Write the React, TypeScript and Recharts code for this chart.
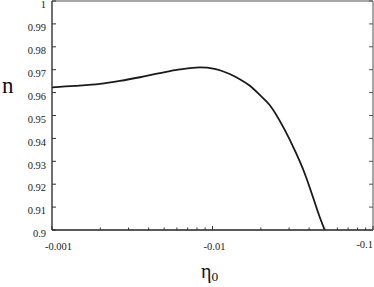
import React from 'react';
import { Line, LineChart, XAxis, YAxis } from 'recharts';

// eta0 values (negative, log-spaced) and n
const etaValues = [
  -0.001, -0.00139, -0.00199, -0.00265, -0.00353, -0.0047, -0.00626, -0.00834, -0.0103,
  -0.0128, -0.0148, -0.0171, -0.0197, -0.0227, -0.0282, -0.0325, -0.0375, -0.0423,
  -0.0465, -0.05,
];
const nValues = [
  0.9623, 0.9629, 0.9638, 0.9651, 0.9667, 0.9685, 0.9701, 0.971, 0.9704,
  0.9681, 0.9658, 0.963, 0.959, 0.9546, 0.9437, 0.9349, 0.9248, 0.9143,
  0.9058, 0.9,
];

const xMajor = [0.001, 0.01, 0.1];
const xTicks = [
  0.001, 0.002, 0.003, 0.004, 0.005, 0.006, 0.007, 0.008, 0.009,
  0.01, 0.02, 0.03, 0.04, 0.05, 0.06, 0.07, 0.08, 0.09, 0.1,
];
const yTicks = [0.9, 0.91, 0.92, 0.93, 0.94, 0.95, 0.96, 0.97, 0.98, 0.99, 1];

const data = etaValues.map((eta, i) => ({ eta, n: nValues[i] }));

const FONT = '"Liberation Serif"';
const isMajor = (v: number) => xMajor.some((m) => Math.abs(m - v) < 1e-9);

const BottomTick = (props: any) => {
  const { x, y, payload } = props;
  const v = payload.value;
  const major = isMajor(v);
  let anchor = 'middle';
  let tx = x + 2;
  let ty = y + 20;
  if (v === 0.001) {
    anchor = 'start';
    tx = x - 7;
  } else if (v === 0.1) {
    anchor = 'end';
    tx = x;
    ty = y + 18;
  }
  return (
    <g>
      <line x1={x} x2={x} y1={y} y2={y - (major ? 4 : 2.5)} stroke="#333" strokeWidth={1} />
      {major && (
        <text x={tx} y={ty} textAnchor={anchor} fontSize={10.5} style={{ fontFamily: FONT }} fill="#222">
          {'-' + v}
        </text>
      )}
    </g>
  );
};

const TopTick = (props: any) => {
  const { x, y, payload } = props;
  const major = isMajor(payload.value);
  return <line x1={x} x2={x} y1={y} y2={y + (major ? 4 : 2.5)} stroke="#555" strokeWidth={1} />;
};

const LeftTick = (props: any) => {
  const { x, y, payload } = props;
  return (
    <g>
      <line x1={x} x2={x + 4} y1={y} y2={y} stroke="#333" strokeWidth={1} />
      <text x={46} y={y + 7.2} textAnchor="end" fontSize={10.5} style={{ fontFamily: FONT }} fill="#222">
        {String(payload.value)}
      </text>
    </g>
  );
};

const RightTick = (props: any) => {
  const { x, y } = props;
  return <line x1={x} x2={x - 4} y1={y} y2={y} stroke="#555" strokeWidth={1} />;
};

export default function App() {
  return (
    <div style={{ position: 'absolute', left: 0, top: 0, width: 374, height: 287 }}>
      <LineChart width={374} height={287} data={data} margin={{ top: 0, right: 0, bottom: 0, left: 0 }}>
        <XAxis
          xAxisId="b"
          dataKey={(d: any) => -d.eta}
          type="number"
          scale="log"
          domain={[0.001, 0.1]}
          allowDataOverflow
          ticks={xTicks}
          interval={0}
          height={57}
          tickSize={0}
          tickMargin={0}
          tickLine={false}
          tick={<BottomTick />}
          axisLine={{ stroke: '#222', strokeWidth: 1.3 }}
        />
        <XAxis
          xAxisId="t"
          orientation="top"
          type="number"
          scale="log"
          domain={[0.001, 0.1]}
          allowDataOverflow
          ticks={xTicks}
          interval={0}
          height={1}
          tickSize={0}
          tickMargin={0}
          tickLine={false}
          tick={<TopTick />}
          axisLine={{ stroke: '#8a8a8a', strokeWidth: 1.5 }}
        />
        <YAxis
          yAxisId="l"
          type="number"
          domain={[0.9, 1]}
          allowDataOverflow
          ticks={yTicks}
          interval={0}
          width={52}
          tickSize={0}
          tickMargin={0}
          tickLine={false}
          tick={<LeftTick />}
          axisLine={{ stroke: '#222', strokeWidth: 1.3 }}
        />
        <YAxis
          yAxisId="r"
          orientation="right"
          type="number"
          domain={[0.9, 1]}
          allowDataOverflow
          ticks={yTicks}
          interval={0}
          width={1}
          tickSize={0}
          tickMargin={0}
          tickLine={false}
          tick={<RightTick />}
          axisLine={{ stroke: '#8a8a8a', strokeWidth: 1.5 }}
        />
        <Line
          xAxisId="b"
          yAxisId="l"
          dataKey="n"
          type="monotone"
          stroke="#1a1a1a"
          strokeWidth={1.8}
          dot={false}
          isAnimationActive={false}
        />
      </LineChart>
      <svg
        width={374}
        height={287}
        style={{ position: 'absolute', left: 0, top: 0, pointerEvents: 'none' }}
      >
        <text x={2} y={93} fontSize={23} fill="#111" style={{ fontFamily: FONT }}>
          n
        </text>
        <text x={201} y={278} fontSize={20} fill="#111" style={{ fontFamily: FONT }}>
          η
          <tspan fontSize={13.5} dy={2.7}>
            0
          </tspan>
        </text>
      </svg>
    </div>
  );
}
